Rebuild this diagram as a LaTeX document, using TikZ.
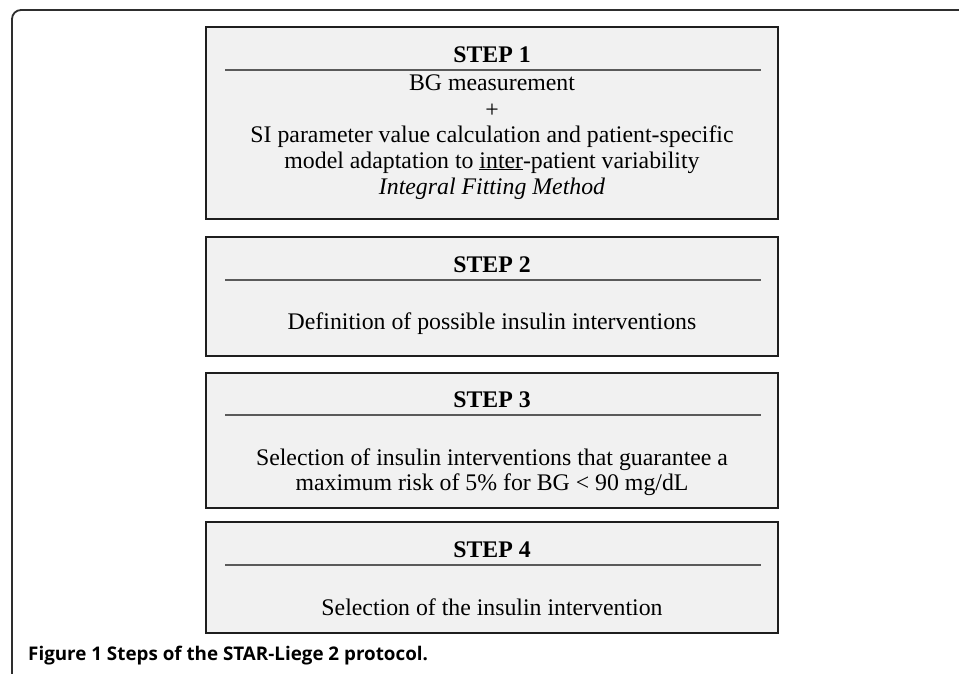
\documentclass[tikz,border=0pt]{standalone}
\usepackage{fontspec}
\setmainfont{Liberation Serif}
\newfontfamily\capfont{Open Sans}
\definecolor{boxfill}{HTML}{F1F1F1}
\definecolor{boxline}{HTML}{1E1E1E}
\definecolor{sepcol}{HTML}{5A5A5A}
\definecolor{framecol}{HTML}{2E2E2E}
\begin{document}
\begin{tikzpicture}[x=1pt,y=-1pt,
  stepbox/.style={draw=boxline, fill=boxfill, line width=1.8pt, minimum width=572pt, inner sep=0pt, outer sep=0pt},
  sepline/.style={draw=sepcol, line width=1.4pt},
  txt/.style={anchor=base, inner sep=0pt, font=\fontsize{23.8}{26}\selectfont},
  head/.style={txt, font=\fontsize{23.8}{26}\selectfont\bfseries},
  framestyle/.style={draw=framecol, line width=1.8pt, rounded corners=9pt}
]
\useasboundingbox (0,0) rectangle (959,673);
\fill[white] (0,0) rectangle (959,673);
% outer frame
\draw[framestyle] (12,676) -- (12,10) -- (962,10);

% boxes
\node[stepbox, minimum height=192pt] (b1) at (492,123) {};
\node[stepbox, minimum height=119pt] (b2) at (492,296.5) {};
\node[stepbox, minimum height=135pt] (b3) at (492,440.5) {};
\node[stepbox, minimum height=111pt] (b4) at (492,577.5) {};

% separators
\draw[sepline] (225,70) -- (761,70);
\draw[sepline] (225,280) -- (761,280);
\draw[sepline] (225,415) -- (761,415);
\draw[sepline] (225,565) -- (761,565);

% step 1
\node[head] (h1) at (492,62) {STEP 1};
\node[txt] (t1a) at (492,90) {BG measurement};
\node[txt, anchor=center] (t1b) at (492,111) {+};
\node[txt] (t1c) at (492,142) {SI parameter value calculation and patient-specific};
\node[txt] (t1d) at (492,168) {model adaptation to \underline{inter}-patient variability};
\node[txt] (t1e) at (492,194) {\itshape Integral Fitting Method};

% step 2
\node[head] (h2) at (492,272) {STEP 2};
\node[txt] (t2) at (492,329) {Definition of possible insulin interventions};

% step 3
\node[head] (h3) at (492,407) {STEP 3};
\node[txt] (t3a) at (492,465) {Selection of insulin interventions that guarantee a};
\node[txt] (t3b) at (492,490) {maximum risk of 5\% for BG < 90 mg/dL};

% step 4
\node[head] (h4) at (492,557) {STEP 4};
\node[txt] (t4) at (492,615) {Selection of the insulin intervention};

% caption
\node[anchor=base west, inner sep=0pt, font=\capfont\fontsize{18.8}{20}\selectfont\bfseries] (cap) at (28,660) {Figure 1 Steps of the STAR-Liege 2 protocol.};
\end{tikzpicture}
\end{document}
